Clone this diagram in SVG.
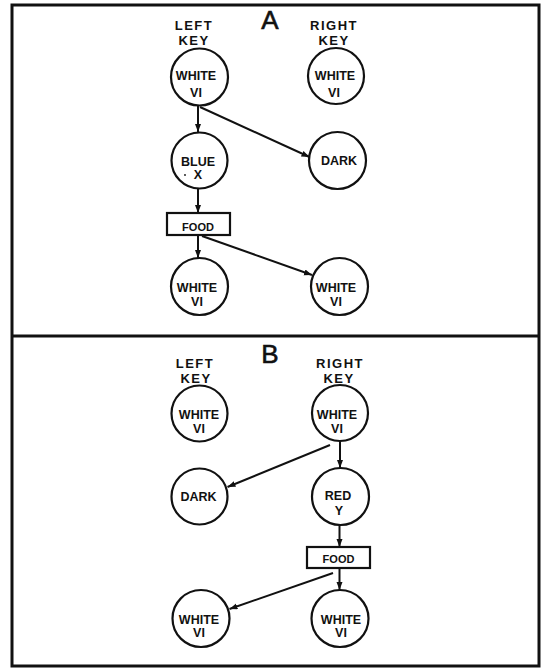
<svg xmlns="http://www.w3.org/2000/svg" width="544" height="668" viewBox="0 0 544 668">
<style>
.frame{fill:none;stroke:#111;stroke-width:3}
.node{fill:#fff;stroke:#111;stroke-width:2.2}
.lbl{font-family:"Liberation Sans",Arial,sans-serif;font-weight:bold;font-size:12.5px;fill:#111;text-anchor:middle}
.key{font-family:"Liberation Sans",Arial,sans-serif;font-weight:bold;font-size:13px;fill:#111;text-anchor:middle;letter-spacing:1.5px}
.title{font-family:"Liberation Sans",Arial,sans-serif;font-size:26px;fill:#111;stroke:#111;stroke-width:0.6;text-anchor:middle}
.edge{fill:none;stroke:#111;stroke-width:2}
</style>
<defs>
<marker id="ah" markerUnits="userSpaceOnUse" markerWidth="9" markerHeight="7" refX="8" refY="3" orient="auto">
<path d="M0,0 L8,3 L0,6 z" fill="#111"/>
</marker>
</defs>
<rect width="544" height="668" fill="#fff"/>
<g id="frame">
<rect class="frame" x="12" y="5" width="527" height="661"/>
<line class="frame" x1="12" y1="336" x2="539" y2="336"/>
</g>
<g id="panel-a-labels">
<text class="title" x="270" y="29">A</text>
<text class="key" x="194" y="30">LEFT</text>
<text class="key" x="194" y="45">KEY</text>
<text class="key" x="334" y="30">RIGHT</text>
<text class="key" x="334" y="45">KEY</text>
</g>
<g id="a-left-white">
<circle class="node" cx="199.5" cy="77" r="28.5"/>
<text class="lbl" x="196" y="80">WHITE</text>
<text class="lbl" x="196" y="97">VI</text>
</g>
<g id="a-right-white">
<circle class="node" cx="336" cy="76" r="28"/>
<text class="lbl" x="335" y="80">WHITE</text>
<text class="lbl" x="334" y="97">VI</text>
</g>
<g id="a-blue">
<circle class="node" cx="199.5" cy="160.5" r="28"/>
<text class="lbl" x="198" y="166">BLUE</text>
<text class="lbl" x="198" y="179">X</text>
<circle cx="185" cy="175" r="0.9" fill="#111"/>
</g>
<g id="a-dark">
<circle class="node" cx="337.5" cy="160.5" r="28.5"/>
<text class="lbl" x="339" y="165">DARK</text>
</g>
<g id="a-food">
<rect class="node" x="167" y="213" width="63" height="22"/>
<text class="lbl" x="198" y="231" style="font-size:11px">FOOD</text>
</g>
<g id="a-bottom-left-white">
<circle class="node" cx="199.5" cy="286.5" r="28.5"/>
<text class="lbl" x="197" y="292">WHITE</text>
<text class="lbl" x="197" y="306">VI</text>
</g>
<g id="a-bottom-right-white">
<circle class="node" cx="339.5" cy="286.5" r="28.5"/>
<text class="lbl" x="336" y="292">WHITE</text>
<text class="lbl" x="336" y="306">VI</text>
</g>
<g id="panel-b-labels">
<text class="title" x="270" y="363">B</text>
<text class="key" x="195" y="368">LEFT</text>
<text class="key" x="196" y="383">KEY</text>
<text class="key" x="340" y="368">RIGHT</text>
<text class="key" x="339" y="383">KEY</text>
</g>
<g id="b-left-white">
<circle class="node" cx="199.5" cy="413.5" r="28"/>
<text class="lbl" x="199" y="419">WHITE</text>
<text class="lbl" x="199" y="433">VI</text>
</g>
<g id="b-right-white">
<circle class="node" cx="340" cy="413" r="28"/>
<text class="lbl" x="337" y="419">WHITE</text>
<text class="lbl" x="337" y="433">VI</text>
</g>
<g id="b-dark">
<circle class="node" cx="199.5" cy="496.5" r="28"/>
<text class="lbl" x="198.5" y="501">DARK</text>
</g>
<g id="b-red">
<circle class="node" cx="340.5" cy="496.5" r="28.5"/>
<text class="lbl" x="338" y="500">RED</text>
<text class="lbl" x="339" y="515">Y</text>
</g>
<g id="b-food">
<rect class="node" x="307" y="547" width="63" height="21"/>
<text class="lbl" x="338.5" y="563" style="font-size:11px">FOOD</text>
</g>
<g id="b-bottom-left-white">
<circle class="node" cx="201" cy="618.5" r="28.5"/>
<text class="lbl" x="199" y="624">WHITE</text>
<text class="lbl" x="199" y="637">VI</text>
</g>
<g id="b-bottom-right-white">
<circle class="node" cx="340" cy="618.5" r="28.5"/>
<text class="lbl" x="341" y="624">WHITE</text>
<text class="lbl" x="341" y="637">VI</text>
</g>
<g id="connectors">
<line class="edge" x1="198" y1="105.5" x2="198" y2="132" marker-end="url(#ah)"/>
<line class="edge" x1="200" y1="107" x2="309.5" y2="157" marker-end="url(#ah)"/>
<line class="edge" x1="198" y1="189" x2="198" y2="213" marker-end="url(#ah)"/>
<line class="edge" x1="198" y1="235" x2="198" y2="258" marker-end="url(#ah)"/>
<line class="edge" x1="202" y1="236" x2="312" y2="275" marker-end="url(#ah)"/>
<line class="edge" x1="340" y1="441" x2="340" y2="468" marker-end="url(#ah)"/>
<line class="edge" x1="330" y1="445" x2="227.5" y2="487" marker-end="url(#ah)"/>
<line class="edge" x1="339.5" y1="525" x2="339.5" y2="547" marker-end="url(#ah)"/>
<line class="edge" x1="339.5" y1="568" x2="339.5" y2="590" marker-end="url(#ah)"/>
<line class="edge" x1="333" y1="573" x2="229.5" y2="609" marker-end="url(#ah)"/>
</g>
</svg>
